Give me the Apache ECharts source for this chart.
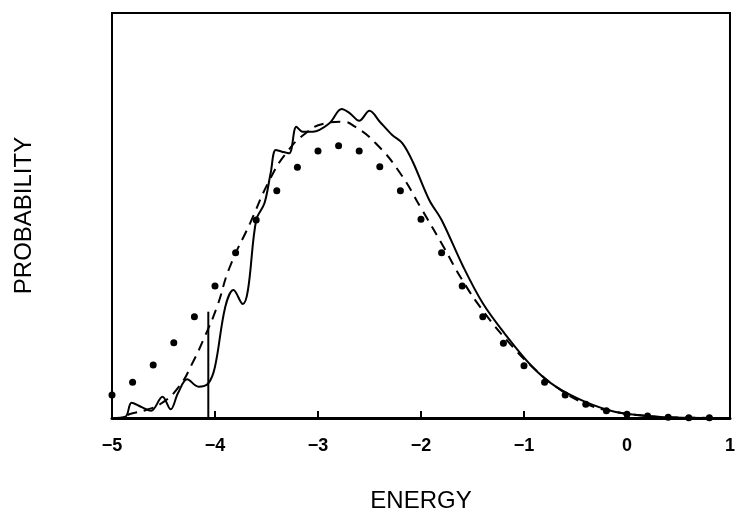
<!DOCTYPE html>
<html>
<head>
<meta charset="utf-8">
<script src="https://cdn.jsdelivr.net/npm/echarts@6/dist/echarts.min.js"></script>
<style>
html,body{margin:0;padding:0;background:#fff;}
#chart{width:738px;height:520px;}
</style>
</head>
<body>
<div id="chart"></div>
<script>
// X tick labels
const xTicks = [-5, -4, -3, -2, -1, 0, 1];

// Dots (discrete distribution)
const dotX = [-5.0,-4.8,-4.6,-4.4,-4.2,-4.0,-3.8,-3.6,-3.4,-3.2,-3.0,-2.8,-2.6,-2.4,-2.2,-2.0,-1.8,-1.6,-1.4,-1.2,-1.0,-0.8,-0.6,-0.4,-0.2,0.0,0.2,0.4,0.6,0.8];
const dotY = [0.23,0.357,0.53,0.753,1.013,1.32,1.653,1.98,2.273,2.507,2.67,2.723,2.67,2.513,2.273,1.987,1.653,1.32,1.013,0.747,0.523,0.357,0.23,0.137,0.073,0.037,0.02,0.007,0.003,0.003];

// Solid curve (wiggly)
const solidX = [-5.0,-4.87,-4.81,-4.72,-4.62,-4.51,-4.43,-4.36,-4.27,-4.16,-4.065,-4.0,-3.9,-3.82,-3.73,-3.68,-3.6,-3.52,-3.46,-3.41,-3.35,-3.28,-3.21,-3.15,-3.05,-2.89,-2.77,-2.69,-2.6,-2.5,-2.4,-2.28,-2.18,-2.08,-1.92,-1.8,-1.59,-1.4,-1.19,-0.92,-0.69,-0.41,-0.12,0.2,0.43,1.0];
const solidY = [0,0.013,0.153,0.113,0.073,0.213,0.087,0.247,0.387,0.313,0.347,0.513,1.113,1.28,1.14,1.28,1.98,2.147,2.447,2.68,2.663,2.647,2.913,2.863,2.863,2.947,3.09,3.047,2.973,3.073,2.963,2.83,2.747,2.563,2.18,1.98,1.513,1.147,0.847,0.513,0.313,0.163,0.063,0.02,0.005,0];

// Dashed curve (smooth)
const dashX = [-4.85,-4.8,-4.67,-4.52,-4.35,-4.22,-4.1,-3.98,-3.86,-3.66,-3.47,-3.31,-3.12,-2.93,-2.77,-2.64,-2.44,-2.21,-2.0,-1.78,-1.6,-1.38,-1.14,-0.92,-0.69,-0.41,-0.12,0.2,0.5,1.0];
const dashY = [0.03,0.047,0.08,0.147,0.313,0.547,0.813,1.113,1.5,1.947,2.38,2.647,2.847,2.947,2.963,2.913,2.747,2.46,2.1,1.71,1.38,1.047,0.747,0.513,0.313,0.147,0.063,0.02,0.005,0];

// Vertical marker line
const markX = [-4.065, -4.065];
const markY = [0, 1.063];

const zip = (xs, ys) => xs.map((x, i) => [x, ys[i]]);
const fontFam = '"Liberation Sans", Arial, sans-serif';

const chart = echarts.init(document.getElementById('chart'), null, {renderer: 'canvas'});
chart.setOption({
  animation: false,
  backgroundColor: '#fff',
  grid: {left: 112, right: 6, top: 13, bottom: 102, show: true, borderColor: '#000', borderWidth: 2, backgroundColor: 'transparent'},
  xAxis: {
    type: 'value', min: -5, max: 1, interval: 1,
    name: 'ENERGY', nameLocation: 'middle', nameGap: 71,
    nameTextStyle: {fontFamily: fontFam, fontSize: 24, color: '#000'},
    axisLine: {show: true, onZero: false, lineStyle: {color: '#000', width: 3}},
    axisTick: {show: true, inside: true, length: 7, lineStyle: {color: '#000', width: 2}},
    axisLabel: {
      margin: 19, color: '#000', fontFamily: fontFam, fontSize: 18, fontWeight: 'bold',
      formatter: v => (xTicks.includes(v) ? String(v).replace('-', '\u2212') : '')
    },
    splitLine: {show: false}
  },
  yAxis: {
    type: 'value', min: 0, max: 4.05,
    name: 'PROBABILITY', nameLocation: 'middle', nameGap: 76, nameRotate: 90,
    nameTextStyle: {fontFamily: fontFam, fontSize: 24, color: '#000'},
    axisLine: {show: true, onZero: false, lineStyle: {color: '#000', width: 2}},
    axisTick: {show: false},
    axisLabel: {show: false},
    splitLine: {show: false}
  },
  series: [
    {
      type: 'line', data: zip(solidX, solidY), smooth: 0.35, symbol: 'none',
      lineStyle: {color: '#000', width: 2}, z: 3
    },
    {
      type: 'line', data: zip(dashX, dashY), smooth: 0.5, symbol: 'none',
      lineStyle: {color: '#000', width: 2, type: [10, 7]}, z: 3
    },
    {
      type: 'scatter', data: zip(dotX, dotY), symbol: 'circle', symbolSize: 7,
      itemStyle: {color: '#000', opacity: 1}, z: 4
    },
    {
      type: 'line', data: zip(markX, markY), symbol: 'none',
      lineStyle: {color: '#000', width: 2}, z: 3
    }
  ]
});
</script>
</body>
</html>
